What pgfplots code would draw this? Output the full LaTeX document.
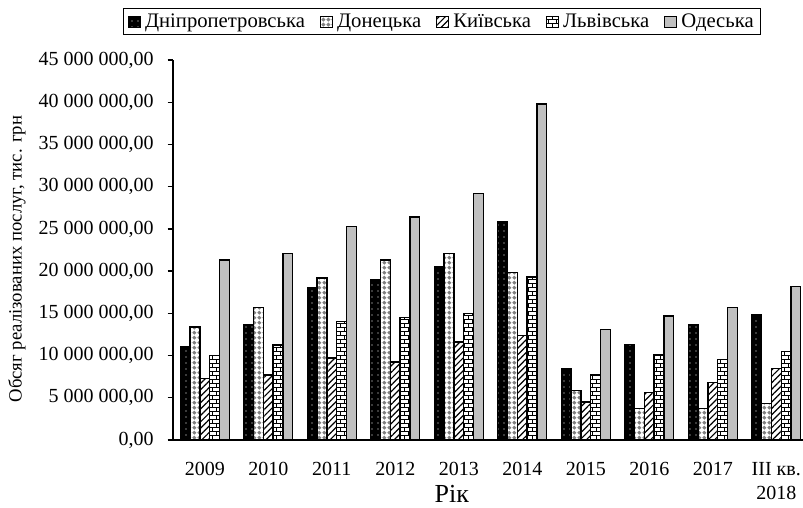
\documentclass[border=0pt]{standalone}
\usepackage{fontspec}
\setmainfont{Liberation Serif}
\usepackage{pgfplots}
\pgfplotsset{compat=1.18}
\usetikzlibrary{patterns,patterns.meta}
\definecolor{odgray}{HTML}{C0C0C0}
\definecolor{dngray}{HTML}{808080}
\tikzdeclarepattern{
  name=smallbricks, type=uncolored,
  bottom left={(-.1pt,-.1pt)}, top right={(6.1pt,6.1pt)},
  tile size={(6pt,6pt)},
  code={\draw[line width=0.6pt] (0pt,0pt)--(6pt,0pt) (0pt,3pt)--(6pt,3pt) (0pt,0pt)--(0pt,3pt) (3pt,3pt)--(3pt,6pt);}
}
\tikzdeclarepattern{
  name=smalldiamonds, type=uncolored,
  bottom left={(0pt,0pt)}, top right={(3.6pt,3.6pt)},
  tile size={(3.6pt,3.6pt)},
  code={\fill (1.8pt,0.2pt)--(3.4pt,1.8pt)--(1.8pt,3.4pt)--(0.2pt,1.8pt)--cycle;}
}
\begin{document}
\begin{tikzpicture}
\begin{axis}[
  at={(129.75pt,-330pt)}, anchor=south west,
  scale only axis, width=476.25pt, height=285pt,
  ybar=0pt, bar width=7.35pt,
  xmin=-0.5, xmax=9.5, ymin=0, ymax=45000000,
  axis x line*=bottom, axis y line*=left,
  axis line style={line width=1pt},
  xtick={0,1,2,3,4,5,6,7,8,9},
  xticklabels={2009,2010,2011,2012,2013,2014,2015,2016,2017,{III кв.\\2018}},
  x tick label style={align=center, font=\fontsize{15}{18.5}\selectfont, yshift=-9pt},
  major x tick style={draw=none},
  extra x ticks={-0.5,0.5,1.5,2.5,3.5,4.5,5.5,6.5,7.5,8.5,9.5},
  extra x tick labels={},
  extra x tick style={major tick length=4pt, tick style={line width=1pt, black, draw=black}},
  ytick={0,5000000,10000000,15000000,20000000,25000000,30000000,35000000,40000000,45000000},
  scaled y ticks=false,
  tick align=outside, major tick length=4pt,
  tick style={line width=1pt, black},
  y tick label style={font=\fontsize{15}{18}\selectfont, xshift=-7pt},
  yticklabel style={/pgf/number format/.cd, fixed, fixed zerofill, precision=2, use comma, 1000 sep={\ }, assume math mode=true},
  ylabel={Обсяг реалізованих послуг, тис. грн},
  ylabel style={at={(axis description cs:-0.2457,0.476)}, anchor=center, font=\fontsize{14}{16}\selectfont},
  xlabel={Рік},
  xlabel style={at={(axis description cs:0.439,-0.143)}, anchor=center, inner sep=0pt, font=\fontsize{19.5}{21}\selectfont},
  legend columns=5,
  legend style={at={(axis description cs:0.4236,1.137)}, anchor=north, draw=black, line width=0.8pt,
    font=\fontsize{15.5}{18}\selectfont, inner xsep=3pt, inner ysep=2pt,
    /tikz/every odd column/.append style={column sep=1.5pt},
    /tikz/every even column/.append style={column sep=9pt}},
  legend image code/.code={\draw[#1, line width=0.6pt] (0pt,-4pt) rectangle (9pt,4pt);},
]
\addplot[draw=black, line width=1pt, fill=black, postaction={pattern={Dots[distance=4.5pt, radius=0.45pt]}, pattern color=white}]
 coordinates {(0,11100000) (1,13700000) (2,18000000) (3,18950000) (4,20500000) (5,25800000) (6,8400000) (7,11300000) (8,13600000) (9,14800000)};
\addlegendentry{Дніпропетровська}
\addplot[draw=black, line width=1pt, fill=white, postaction={pattern=smalldiamonds, pattern color=dngray}]
 coordinates {(0,13400000) (1,15700000) (2,19200000) (3,21300000) (4,22100000) (5,19800000) (6,5900000) (7,3750000) (8,3750000) (9,4350000)};
\addlegendentry{Донецька}
\addplot[draw=black, line width=1pt, fill=white, postaction={pattern={Lines[angle=45, distance=3.4pt, line width=0.9pt]}, pattern color=black}]
 coordinates {(0,7300000) (1,7700000) (2,9700000) (3,9240000) (4,11600000) (5,12400000) (6,4500000) (7,5600000) (8,6800000) (9,8450000)};
\addlegendentry{Київська}
\addplot[draw=black, line width=1pt, fill=white, postaction={pattern=smallbricks, pattern color=black}]
 coordinates {(0,10000000) (1,11250000) (2,14000000) (3,14500000) (4,15000000) (5,19300000) (6,7700000) (7,10100000) (8,9500000) (9,10500000)};
\addlegendentry{Львівська}
\addplot[draw=black, line width=1pt, fill=odgray]
 coordinates {(0,21300000) (1,22100000) (2,25300000) (3,26400000) (4,29200000) (5,39800000) (6,13100000) (7,14700000) (8,15700000) (9,18200000)};
\addlegendentry{Одеська}
\end{axis}
\pgfresetboundingbox
\path[use as bounding box] (0pt,0pt) rectangle (602.25pt,-380.25pt);
\end{tikzpicture}
\end{document}
